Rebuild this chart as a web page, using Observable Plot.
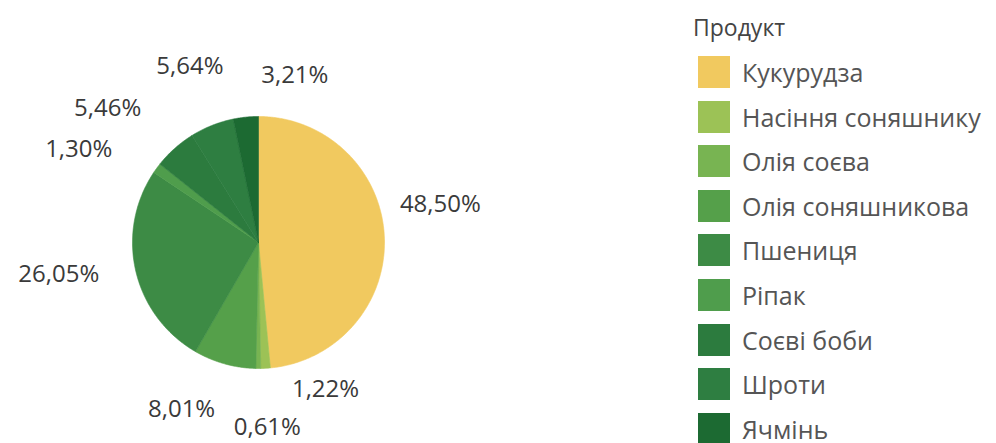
<!DOCTYPE html>
<html><head><meta charset="utf-8">
<script src="https://cdn.jsdelivr.net/npm/d3@7"></script>
<script src="https://cdn.jsdelivr.net/npm/@observablehq/plot@0.6"></script>
<style>
body{margin:0;background:#fff;font-family:"Open Sans",sans-serif;}
#wrap{position:relative;width:996px;height:443px;overflow:hidden;background:#fff;}
#chart{position:absolute;left:0;top:0;}
#legend{position:absolute;left:698px;top:0;color:#555;}
#legend .title{position:absolute;left:-5px;top:10px;font-size:23px;line-height:34px;white-space:nowrap;color:#444;}
#legend .item{position:absolute;left:0;height:32px;display:flex;align-items:center;white-space:nowrap;font-size:25px;}
#legend .sw{width:32px;height:32px;margin-right:12px;flex:none;}
</style></head><body>
<div id="wrap"><div id="chart"></div><div id="legend"></div></div>
<script>
const products = ["Кукурудза","Насіння соняшнику","Олія соєва","Олія соняшникова","Пшениця","Ріпак","Соєві боби","Шроти","Ячмінь"];
const shares = [48.50, 1.22, 0.61, 8.01, 26.05, 1.30, 5.46, 5.64, 3.21];
const colors = ["#f1c95f","#9cc256","#78b452","#55a04a","#3d8b45","#4f9d4c","#2c7b3e","#2e7e41","#1c6a32"];
const legendTitle = "Продукт";

// label nudges (px) from the slice's outer edge midpoint
const labelNudge = [[56,-32],[60,21],[9,59],[-43,45],[-77,3],[-78,-19],[-67,-40],[-22,-59],[49,-42]];

const W = 660, H = 443, CX = 258, CY = 242, R = 126;
const total = d3.sum(shares);
let acc = 0;
const slices = products.map((p, i) => {
  const a0 = acc / total * 2 * Math.PI; acc += shares[i];
  const a1 = acc / total * 2 * Math.PI;
  return {p, v: shares[i], a0, a1, i};
});
const pts = [];
for (const s of slices) {
  pts.push({p: s.p, x: 0, y: 0});
  const n = Math.max(2, Math.ceil((s.a1 - s.a0) / (Math.PI / 360)));
  for (let k = 0; k <= n; k++) {
    const a = s.a0 + (s.a1 - s.a0) * k / n;
    pts.push({p: s.p, x: Math.sin(a), y: Math.cos(a)});
  }
  pts.push({p: s.p, x: 0, y: 0});
}
const labels = slices.map(s => {
  const m = (s.a0 + s.a1) / 2;
  const [dx, dy] = labelNudge[s.i];
  return {x: Math.sin(m) + dx / R, y: Math.cos(m) - dy / R, text: s.v.toFixed(2).replace(".", ",") + "%"};
});

const plot = Plot.plot({
  width: W, height: H, margin: 0,
  x: {domain: [-CX / R, (W - CX) / R], axis: null},
  y: {domain: [-(H - CY) / R, CY / R], axis: null},
  color: {domain: products, range: colors},
  style: {fontFamily: "'Open Sans', sans-serif", background: "#fff"},
  marks: [
    Plot.line(pts, {x: "x", y: "y", z: "p", fill: "p", stroke: "p", strokeWidth: 0.6, curve: "linear"}),
    Plot.text(labels, {x: "x", y: "y", text: "text", fontSize: 24, fill: "#3a3a3a"})
  ]
});
document.getElementById("chart").appendChild(plot);

const color = plot.scale("color");
const leg = document.getElementById("legend");
const t = document.createElement("div");
t.className = "title"; t.textContent = legendTitle; leg.appendChild(t);
products.forEach((p, i) => {
  const row = document.createElement("div");
  row.className = "item";
  row.style.top = (56 + 44.6 * i) + "px";
  const sw = document.createElement("div");
  sw.className = "sw"; sw.style.background = color.apply(p);
  const lab = document.createElement("span"); lab.textContent = p;
  row.appendChild(sw); row.appendChild(lab); leg.appendChild(row);
});
</script>
</body></html>
